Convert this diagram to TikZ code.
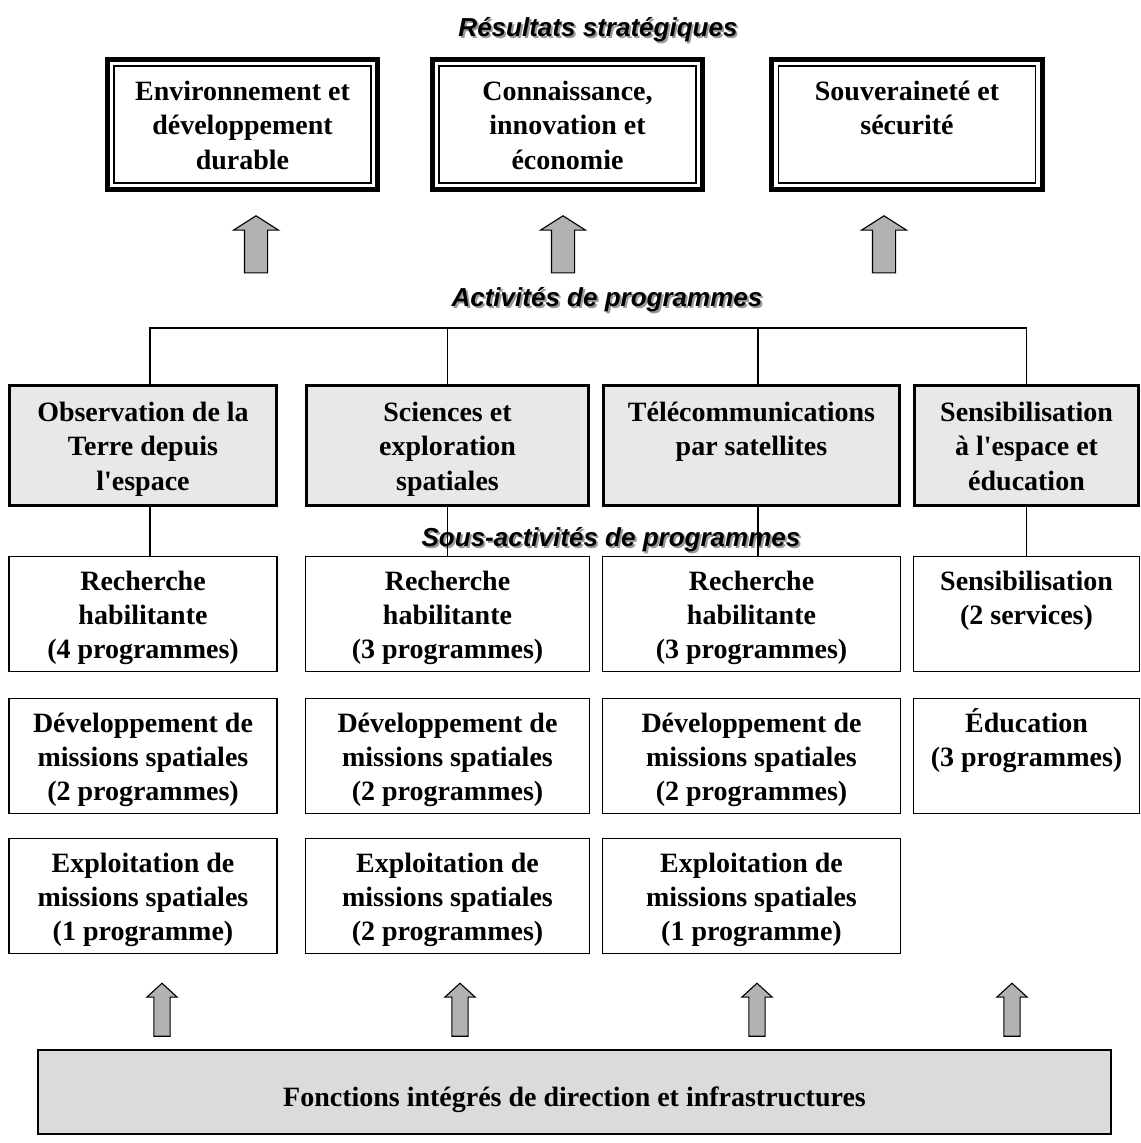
\documentclass[tikz,border=0pt]{standalone}
\usepackage{fontspec}
\setmainfont{Liberation Serif}
\newfontfamily\headfont{Liberation Sans}
\usetikzlibrary{shapes.arrows,calc}

\definecolor{actgray}{gray}{0.91}
\definecolor{basegray}{gray}{0.86}
\definecolor{arrowgray}{gray}{0.70}

% heading text with a soft grey shadow
\newcommand\shadowed[1]{\makebox[0pt][l]{\hspace{1.4pt}\raisebox{-1.4pt}{\textcolor{black!40}{#1}}}#1}

\tikzset{
    box/.style={draw, inner sep=0pt, font=\bfseries\fontsize{19.9}{24.2}\selectfont},
    multi/.style={box, align=center,
        execute at begin node=\rule{0pt}{2.525cm},
        execute at end node=\rule[-0.3cm]{0pt}{0pt}},
    resbox/.style={multi, line width=0.125cm, minimum width=6.75cm, minimum height=3.25cm},
    actbox/.style={multi, line width=2.2pt, fill=actgray, minimum height=3.0cm},
    subbox/.style={multi, line width=1.1pt, minimum height=2.88cm},
    basebox/.style={box, line width=1.5pt, fill=basegray, text height=1cm, text depth=0.3cm},
    heading/.style={font=\headfont\bfseries\itshape\fontsize{18.5}{22}\selectfont},
    uparrow/.style={single arrow, draw, fill=arrowgray, rotate=90, inner xsep=0pt,
        line width=0.8pt, single arrow head indent=0pt},
    bigup/.style={uparrow, minimum height=1.425cm, inner ysep=0.275cm,
        single arrow head extend=0.275cm, single arrow tip angle=115},
    smallup/.style={uparrow, minimum height=1.325cm, inner ysep=0.19cm,
        single arrow head extend=0.175cm, single arrow tip angle=95}
}

\begin{document}
\begin{tikzpicture}[x=0.025cm, y=-0.025cm]
    \useasboundingbox (0,0) rectangle (1141,1143);

    % Strategic outcomes
    \node[heading] (hres) at (598,31) {\shadowed{Résultats stratégiques}};
    \node[resbox] (res1) at (242.5,124.5) {Environnement et\\développement\\durable};
    \node[resbox] (res2) at (567.5,124.5) {Connaissance,\\innovation et\\économie};
    \node[resbox] (res3) at (907,124.5) {Souveraineté et\\sécurité\\\mbox{}};
    \foreach \r in {res1,res2,res3}
        \draw[line width=1pt] ($(\r.north west)+(9,9)$) rectangle ($(\r.south east)+(-9,-9)$);

    % Arrows up to the outcomes
    \node[bigup] (up1) at (256,248) {};
    \node[bigup] (up2) at (563,248) {};
    \node[bigup] (up3) at (884,248) {};

    % Program activities
    \node[heading] (hact) at (607,301) {\shadowed{Activités de programmes}};
    \node[actbox, minimum width=6.675cm] (act1) at (143,445.5) {Observation de la\\Terre depuis\\l\textquotesingle espace};
    \node[actbox, minimum width=7.05cm] (act2) at (447.5,445.5) {Sciences et\\exploration\\spatiales};
    \node[actbox, minimum width=7.4cm] (act3) at (751.5,445.5) {Télécommunications\\par satellites\\\mbox{}};
    \node[actbox, minimum width=5.6cm] (act4) at (1026.5,445.5) {Sensibilisation\\à l\textquotesingle espace et\\éducation};

    \coordinate (bus) at (447,328);
    \draw[line width=0.8pt] ([xshift=0.175cm]act1.north) |- (bus) -| (act4.north);
    \draw[line width=0.8pt] (act2.north) -- (act2.north |- bus);
    \draw[line width=0.8pt] ([xshift=0.1625cm]act3.north |- bus) -- ([xshift=0.1625cm]act3.north);

    % Program sub-activities
    \node[heading] (hsous) at (611,541) {\shadowed{Sous-activités de programmes}};

    \node[subbox, minimum width=6.71cm] (subA1) at (143,614) {Recherche\\habilitante\\(4 programmes)};
    \node[subbox, minimum width=7.09cm] (subA2) at (447.5,614) {Recherche\\habilitante\\(3 programmes)};
    \node[subbox, minimum width=7.44cm] (subA3) at (751.5,614) {Recherche\\habilitante\\(3 programmes)};
    \node[subbox, minimum width=5.64cm] (subA4) at (1026.5,614) {Sensibilisation\\(2 services)\\\mbox{}};

    \node[subbox, minimum width=6.71cm] (subB1) at (143,756) {Développement de\\missions spatiales\\(2 programmes)};
    \node[subbox, minimum width=7.09cm] (subB2) at (447.5,756) {Développement de\\missions spatiales\\(2 programmes)};
    \node[subbox, minimum width=7.44cm] (subB3) at (751.5,756) {Développement de\\missions spatiales\\(2 programmes)};
    \node[subbox, minimum width=5.64cm] (subB4) at (1026.5,756) {Éducation\\(3 programmes)\\\mbox{}};

    \node[subbox, minimum width=6.71cm] (subC1) at (143,896) {Exploitation de\\missions spatiales\\(1 programme)};
    \node[subbox, minimum width=7.09cm] (subC2) at (447.5,896) {Exploitation de\\missions spatiales\\(2 programmes)};
    \node[subbox, minimum width=7.44cm] (subC3) at (751.5,896) {Exploitation de\\missions spatiales\\(1 programme)};

    \foreach \c/\s in {1/0.175,2/0,3/0.1625,4/0}
        \draw[line width=0.8pt] ([xshift=\s cm]act\c.south) -- ([xshift=\s cm]subA\c.north);

    % Internal services
    \node[smallup] (dn1) at (162,1013.5) {};
    \node[smallup] (dn2) at (460,1013.5) {};
    \node[smallup] (dn3) at (757,1013.5) {};
    \node[smallup] (dn4) at (1012,1013.5) {};
    \node[basebox, minimum width=26.825cm, minimum height=2.1cm] (base) at (574.5,1092)
        {Fonctions intégrés de direction et infrastructures};
\end{tikzpicture}
\end{document}
